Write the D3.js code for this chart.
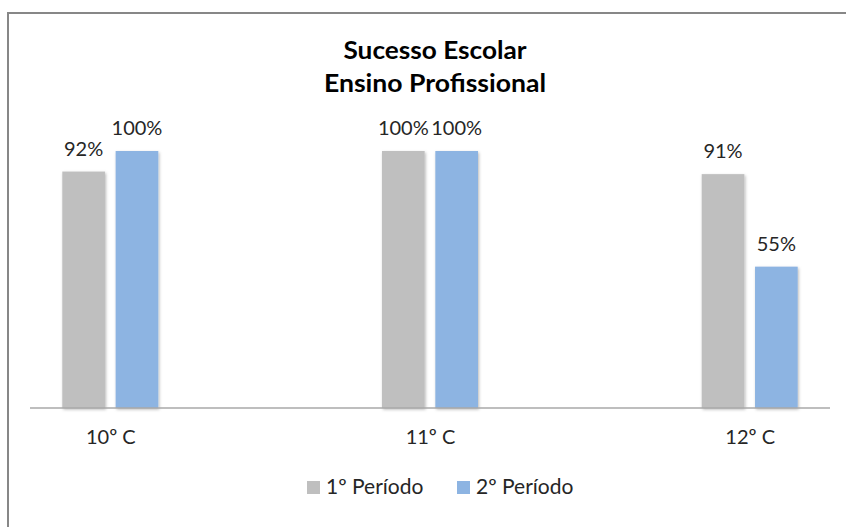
<!DOCTYPE html>
<html>
<head>
<meta charset="utf-8">
<script src="https://cdn.jsdelivr.net/npm/d3@7"></script>
<style>
  html, body { margin: 0; padding: 0; background: #ffffff; }
  svg { display: block; font-family: Lato, "Open Sans", sans-serif; }
</style>
</head>
<body>
<svg id="chart" width="846" height="527"></svg>
<script>
// Taxas de sucesso por turma e período
const turmas = ["10º C", "11º C", "12º C"];
const periodos = ["1º Período", "2º Período"];
const periodo1 = [92, 100, 91];
const periodo2 = [100, 100, 55];
const cores = ["#bfbfbf", "#8db4e2"];
const tituloLinhas = ["Sucesso Escolar", "Ensino Profissional"];

const rows = turmas.map((t, i) => ({ turma: t, valores: [periodo1[i], periodo2[i]] }));

const svg = d3.select("#chart");
const textColor = "#262626";

// sombra suave das barras
const defs = svg.append("defs");
const f = defs.append("filter").attr("id", "sombra")
  .attr("x", "-20%").attr("y", "-20%").attr("width", "140%").attr("height", "140%");
f.append("feDropShadow").attr("dx", 1).attr("dy", 1.5).attr("stdDeviation", 1.4)
  .attr("flood-color", "#000").attr("flood-opacity", 0.28);

// moldura da área do gráfico
svg.append("rect")
  .attr("x", 8).attr("y", 13).attr("width", 900).attr("height", 600)
  .attr("fill", "none").attr("stroke", "#878787").attr("stroke-width", 2);

// título
const titulo = svg.append("g").attr("font-weight", "bold").attr("fill", "#000")
  .attr("text-anchor", "middle").attr("font-size", 24);
titulo.append("text").attr("x", 435).attr("y", 59)
  .attr("textLength", 183).attr("lengthAdjust", "spacingAndGlyphs").text(tituloLinhas[0]);
titulo.append("text").attr("x", 435).attr("y", 92)
  .attr("textLength", 222).attr("lengthAdjust", "spacingAndGlyphs").text(tituloLinhas[1]);

// escalas
const x = d3.scalePoint().domain(turmas).range([110.3, 749.7]);
const xs = d3.scaleBand().domain(periodos).range([-48, 48]).paddingInner(0.2);
const y = d3.scaleLinear().domain([0, 100]).range([408, 151]);
const color = d3.scaleOrdinal().domain(periodos).range(cores);

// barras
const grupos = svg.append("g").selectAll("g").data(rows).join("g")
  .attr("transform", d => `translate(${x(d.turma)},0)`);

grupos.selectAll("rect")
  .data(d => d.valores.map((v, k) => ({ periodo: periodos[k], v })))
  .join("rect")
  .attr("x", d => xs(d.periodo))
  .attr("width", xs.bandwidth())
  .attr("y", d => y(d.v))
  .attr("height", d => y(0) - y(d.v))
  .attr("fill", d => color(d.periodo))
  .attr("filter", "url(#sombra)");

// rótulos de valor
grupos.selectAll("text.valor")
  .data(d => d.valores.map((v, k) => ({ periodo: periodos[k], v })))
  .join("text")
  .attr("class", "valor")
  .attr("x", d => xs(d.periodo) + xs.bandwidth() / 2)
  .attr("y", d => y(d.v) - 16)
  .attr("text-anchor", "middle")
  .attr("font-size", 20)
  .attr("fill", textColor)
  .text(d => d.v + "%");

// linha base do eixo
svg.append("line")
  .attr("x1", 30).attr("x2", 830)
  .attr("y1", y(0)).attr("y2", y(0))
  .attr("stroke", "#a9a9a9").attr("stroke-width", 1.5);

// eixo das categorias
const eixo = svg.append("g")
  .attr("transform", `translate(0,${y(0)})`)
  .call(d3.axisBottom(x).tickSize(0).tickPadding(22));
eixo.select(".domain").remove();
eixo.selectAll("text")
  .attr("font-family", "Lato, 'Open Sans', sans-serif")
  .attr("font-size", 20)
  .attr("fill", textColor);

// legenda
const legX = [307, 457];
const leg = svg.append("g").selectAll("g").data(periodos).join("g")
  .attr("transform", (d, i) => `translate(${legX[i]},481)`);
leg.append("rect").attr("width", 13).attr("height", 13).attr("fill", d => color(d));
leg.append("text").attr("x", 19).attr("y", 13)
  .attr("font-size", 21).attr("fill", textColor).text(d => d);
</script>
</body>
</html>
